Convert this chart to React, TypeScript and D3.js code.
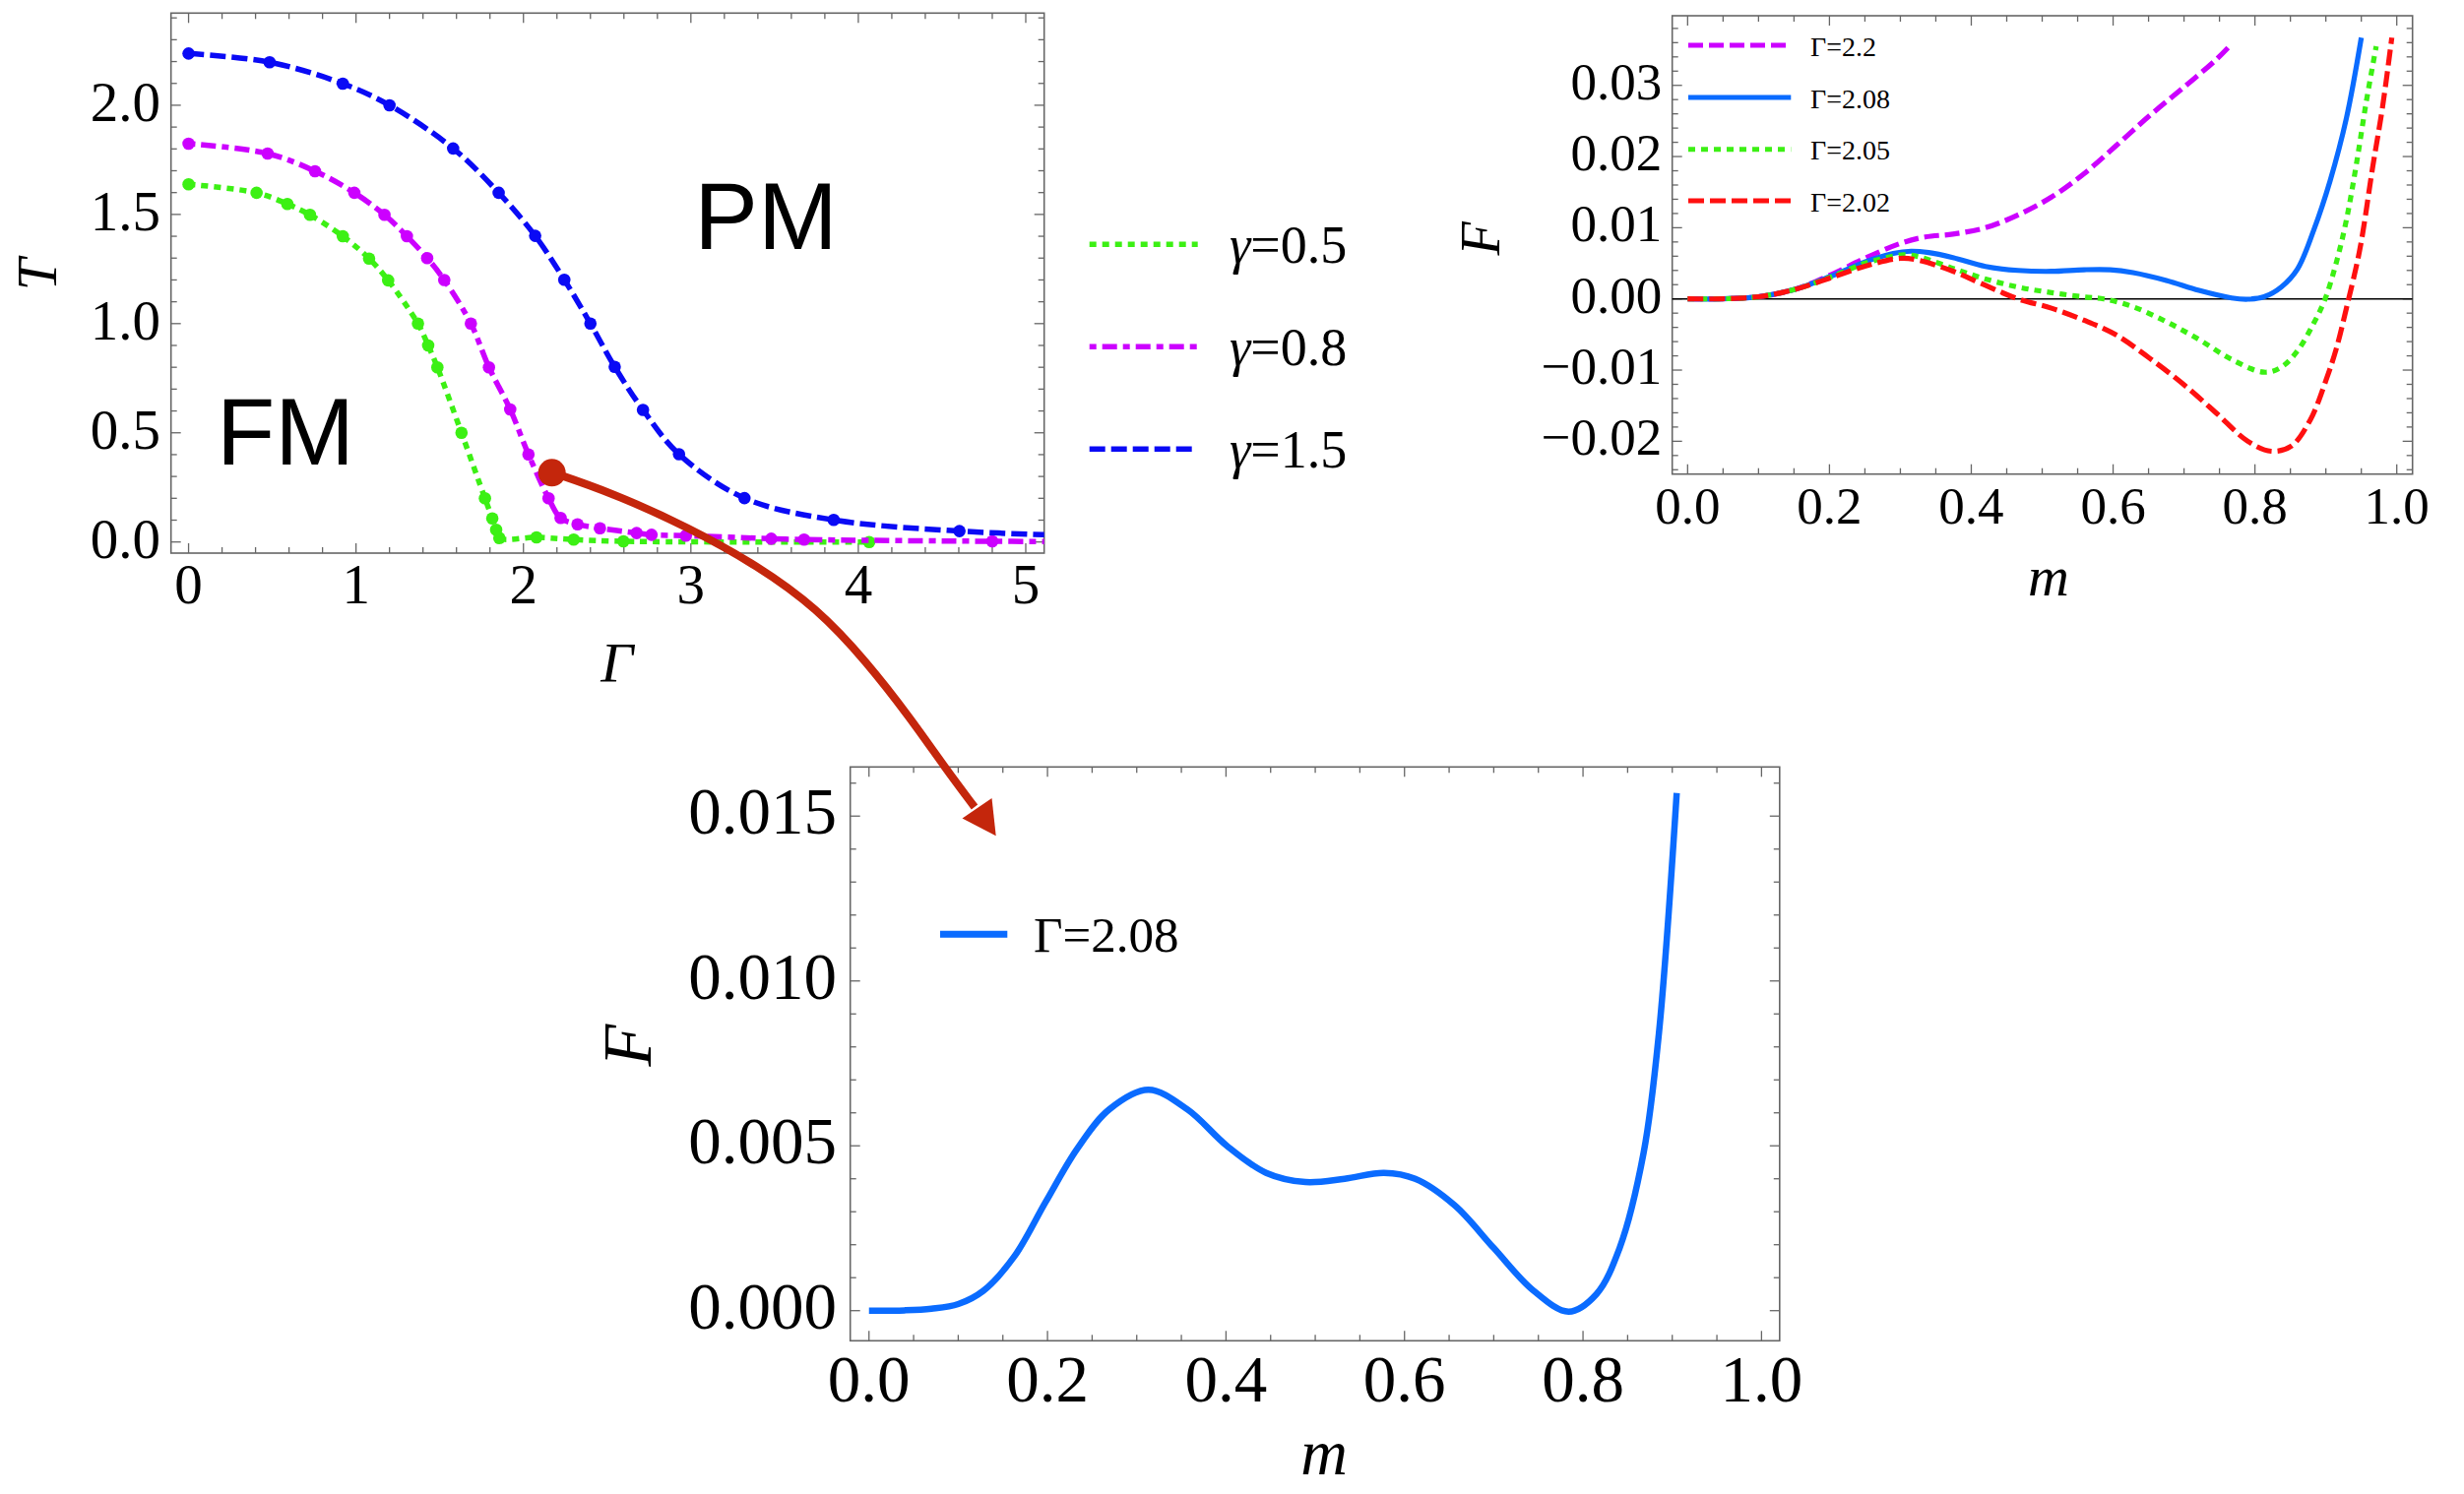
import React from 'react';
import * as d3 from 'd3';

// ---------- Panel 1 data: phase diagram T(Γ) ----------
const g05Points: [number, number][] = [
  [0, 1.638], [0.406, 1.599], [0.59, 1.548], [0.725, 1.498], [0.921, 1.4], [1.078, 1.298],
  [1.192, 1.198], [1.37, 1.0], [1.431, 0.9], [1.486, 0.8], [1.63, 0.5], [1.77, 0.2],
  [1.814, 0.108], [1.837, 0.056], [1.856, 0.018], [2.078, 0.021], [2.3, 0.011], [2.597, 0.003], [4.065, 0.0],
];
const g08Points: [number, number][] = [
  [0, 1.824], [0.472, 1.779], [0.755, 1.698], [0.99, 1.599], [1.17, 1.498], [1.304, 1.4],
  [1.425, 1.3], [1.527, 1.2], [1.686, 1.0], [1.794, 0.8], [1.921, 0.607], [2.03, 0.401],
  [2.15, 0.2], [2.222, 0.11], [2.323, 0.081], [2.457, 0.063], [2.676, 0.041], [2.765, 0.033],
  [2.97, 0.029], [3.48, 0.015], [3.676, 0.011], [4.8, 0.003],
];
const g08Tail: [number, number][] = [[5.2, 0.002]];
const g15Points: [number, number][] = [
  [0, 2.237], [0.484, 2.197], [0.921, 2.099], [1.2, 2.0], [1.58, 1.802], [1.852, 1.599],
  [2.07, 1.402], [2.244, 1.201], [2.4, 1.0], [2.545, 0.802], [2.714, 0.605], [2.929, 0.402],
  [3.32, 0.201], [3.853, 0.101], [4.604, 0.05],
];
const g15Tail: [number, number][] = [[5.2, 0.031]];
const gammaValues = ['0.5', '0.8', '1.5'];
const markedPoint: [number, number] = [2.17, 0.317];

const p1XTicks = [0, 1, 2, 3, 4, 5];
const p1YTicks = [0, 0.5, 1.0, 1.5, 2.0];
const p1XLabels = ['0', '1', '2', '3', '4', '5'];
const p1YLabels = ['0.0', '0.5', '1.0', '1.5', '2.0'];

// ---------- Panel 2 data: F(m) for several Γ ----------
const fG220: [number, number][] = [
  [0, 0], [0.05, 0.00002], [0.1, 0.0003], [0.15, 0.0013], [0.2, 0.0033], [0.25, 0.0057],
  [0.3, 0.0078], [0.335, 0.0087], [0.374, 0.0091], [0.42, 0.0100], [0.466, 0.0118],
  [0.513, 0.0143], [0.559, 0.0176], [0.605, 0.0216], [0.651, 0.0257], [0.698, 0.0296],
  [0.744, 0.0335], [0.765, 0.0356],
];
const fG208: [number, number][] = [
  [0, 0], [0.05, 0.00002], [0.1, 0.0003], [0.15, 0.0013], [0.2, 0.0031], [0.25, 0.0052],
  [0.29, 0.0064], [0.315, 0.0067], [0.34, 0.0065], [0.374, 0.0058], [0.42, 0.00456],
  [0.466, 0.0040], [0.513, 0.00387], [0.559, 0.0041], [0.596, 0.0041], [0.628, 0.0037],
  [0.675, 0.0026], [0.721, 0.0012], [0.767, 0.00014], [0.79, -0.00004], [0.813, 0.0003],
  [0.837, 0.00166], [0.86, 0.0042], [0.883, 0.0097], [0.906, 0.0166], [0.929, 0.0254], [0.95, 0.0367],
];
const fG205: [number, number][] = [
  [0, 0], [0.05, 0.00002], [0.1, 0.0003], [0.15, 0.0013], [0.2, 0.0030], [0.25, 0.0050],
  [0.29, 0.0060], [0.305, 0.0062], [0.327, 0.0059], [0.374, 0.0043], [0.42, 0.0028],
  [0.466, 0.00166], [0.513, 0.00088], [0.559, 0.00028], [0.587, 0], [0.628, -0.0011],
  [0.675, -0.0032], [0.721, -0.0057], [0.767, -0.0085], [0.813, -0.0103], [0.837, -0.0096],
  [0.86, -0.0073], [0.883, -0.0034], [0.899, 0], [0.915, 0.0052], [0.929, 0.0111],
  [0.943, 0.0189], [0.957, 0.0277], [0.971, 0.0355],
];
const fG202: [number, number][] = [
  [0, 0], [0.05, 0.00002], [0.1, 0.0003], [0.15, 0.0013], [0.2, 0.0029], [0.25, 0.0046],
  [0.3, 0.0057], [0.327, 0.0054], [0.374, 0.0039], [0.42, 0.0019], [0.466, 0], [0.513, -0.0013],
  [0.559, -0.0030], [0.605, -0.0051], [0.651, -0.0083], [0.698, -0.0119], [0.744, -0.0159],
  [0.79, -0.0200], [0.823, -0.0214], [0.851, -0.0207], [0.878, -0.0170], [0.901, -0.0112],
  [0.915, -0.0069], [0.929, -0.0013], [0.948, 0.0070], [0.966, 0.0185], [0.98, 0.027], [0.993, 0.0367],
];
const p2Names = ['Γ=2.2', 'Γ=2.08', 'Γ=2.05', 'Γ=2.02'];
const p2XTicks = [0, 0.2, 0.4, 0.6, 0.8, 1.0];
const p2YTicks = [-0.02, -0.01, 0, 0.01, 0.02, 0.03];
const p2XLabels = ['0.0', '0.2', '0.4', '0.6', '0.8', '1.0'];
const p2YLabels = ['−0.02', '−0.01', '0.00', '0.01', '0.02', '0.03'];

// ---------- Panel 3 data: F(m) at Γ=2.08 ----------
const fZoom208: [number, number][] = [
  [0, 0], [0.04, 0.00001], [0.07, 0.00006], [0.1, 0.0002], [0.128, 0.0006], [0.163, 0.00165],
  [0.198, 0.0033], [0.233, 0.0049], [0.269, 0.0061], [0.313, 0.0067], [0.357, 0.0061], [0.401, 0.0050],
  [0.445, 0.00418], [0.489, 0.0039], [0.533, 0.0040], [0.577, 0.00418], [0.612, 0.0040],
  [0.656, 0.0032], [0.70, 0.0019], [0.744, 0.00062], [0.784, -0.00003], [0.815, 0.0005],
  [0.841, 0.0019], [0.868, 0.0048], [0.885, 0.0084], [0.905, 0.0157],
];
const p3XTicks = [0, 0.2, 0.4, 0.6, 0.8, 1.0];
const p3YTicks = [0, 0.005, 0.010, 0.015];
const p3XLabels = ['0.0', '0.2', '0.4', '0.6', '0.8', '1.0'];
const p3YLabels = ['0.000', '0.005', '0.010', '0.015'];

// annotation arrow (pixel path, smoothed)
const arrowPath: [number, number][] = [
  [561, 480], [620, 500], [700, 536], [770, 575], [830, 618], [880, 672], [925, 730], [960, 780], [990, 820],
];

const SERIF = '"Liberation Serif", "Times New Roman", serif';
const SANS = '"Liberation Sans", Arial, sans-serif';

const C_GREEN = '#3cf014';
const C_MAG = '#cc00ff';
const C_BLUE = '#0a0af5';
const C_BLUE2 = '#0a6bff';
const C_RED = '#ff1010';
const C_ARROW = '#c4260c';
const FRAME = '#666';

function minorRange(a: number, b: number, step: number, majors: number[]) {
  const out: number[] = [];
  const n0 = Math.ceil(a / step - 1e-9);
  const n1 = Math.floor(b / step + 1e-9);
  for (let i = n0; i <= n1; i++) {
    const v = i * step;
    if (!majors.some((m) => Math.abs(m - v) < step * 1e-3)) out.push(v);
  }
  return out;
}

type FrameProps = {
  x: d3.ScaleLinear<number, number>;
  y: d3.ScaleLinear<number, number>;
  xMajor: number[];
  yMajor: number[];
  xMinorStep: number;
  yMinorStep: number;
  xLabels: string[];
  yLabels: string[];
  fontSize: number;
  yLabelRight: number;
  yBaseOff: number;
  xBaseline: number;
};

function Frame(p: FrameProps) {
  const [l, r] = p.x.range();
  const [b, t] = p.y.range();
  const xd = p.x.domain();
  const yd = p.y.domain();
  const xMin = minorRange(xd[0], xd[1], p.xMinorStep, p.xMajor);
  const yMin = minorRange(yd[0], yd[1], p.yMinorStep, p.yMajor);
  const ML = 10, ml = 6;
  const lines: any[] = [];
  let k = 0;
  const tk = (x1: number, y1: number, x2: number, y2: number) =>
    lines.push(<line key={k++} x1={x1} y1={y1} x2={x2} y2={y2} stroke={FRAME} strokeWidth={1.3} />);
  p.xMajor.forEach((v) => { const X = p.x(v); tk(X, b, X, b - ML); tk(X, t, X, t + ML); });
  xMin.forEach((v) => { const X = p.x(v); tk(X, b, X, b - ml); tk(X, t, X, t + ml); });
  p.yMajor.forEach((v) => { const Y = p.y(v); tk(l, Y, l + ML, Y); tk(r, Y, r - ML, Y); });
  yMin.forEach((v) => { const Y = p.y(v); tk(l, Y, l + ml, Y); tk(r, Y, r - ml, Y); });
  return (
    <g>
      <rect x={l} y={t} width={r - l} height={b - t} fill="none" stroke={FRAME} strokeWidth={1.6} />
      {lines}
      {p.xMajor.map((v, i) => (
        <text key={'xl' + i} x={p.x(v)} y={p.xBaseline} textAnchor="middle" fontFamily={SERIF} fontSize={p.fontSize} fill="#000">
          {p.xLabels[i]}
        </text>
      ))}
      {p.yMajor.map((v, i) => (
        <text key={'yl' + i} x={p.yLabelRight} y={p.y(v) + p.yBaseOff} textAnchor="end" fontFamily={SERIF} fontSize={p.fontSize} fill="#000">
          {p.yLabels[i]}
        </text>
      ))}
    </g>
  );
}

export default function App() {
  // scales
  const x1 = d3.scaleLinear().domain([-0.105, 5.11]).range([173.7, 1060.7]);
  const y1 = d3.scaleLinear().domain([-0.051, 2.422]).range([562, 13.3]);
  const x2 = d3.scaleLinear().domain([-0.0217, 1.0222]).range([1698.7, 2450.7]);
  const y2 = d3.scaleLinear().domain([-0.02461, 0.03978]).range([481.7, 16]);
  const x3 = d3.scaleLinear().domain([-0.021, 1.0203]).range([863.7, 1807.8]);
  const y3 = d3.scaleLinear().domain([-0.000913, 0.01649]).range([1362.3, 779.3]);

  const l1 = d3.line<[number, number]>().x((d) => x1(d[0])).y((d) => y1(d[1])).curve(d3.curveCatmullRom.alpha(0.5));
  const l2 = d3.line<[number, number]>().x((d) => x2(d[0])).y((d) => y2(d[1])).curve(d3.curveCatmullRom.alpha(0.5));
  const l3 = d3.line<[number, number]>().x((d) => x3(d[0])).y((d) => y3(d[1])).curve(d3.curveCatmullRom.alpha(0.5));
  const la = d3.line<[number, number]>().curve(d3.curveBasis);

  const p1Series = [
    { pts: g05Points, tail: [] as [number, number][], color: C_GREEN, dash: '7,6' },
    { pts: g08Points, tail: g08Tail, color: C_MAG, dash: '7,6,15,6' },
    { pts: g15Points, tail: g15Tail, color: C_BLUE, dash: '16,6' },
  ];
  const p2Series = [
    { data: fG220, color: C_MAG, dash: '15,6', w: 5.2 },
    { data: fG208, color: C_BLUE2, dash: '', w: 5.2 },
    { data: fG205, color: C_GREEN, dash: '7,6', w: 5.2 },
    { data: fG202, color: C_RED, dash: '16,6', w: 5.2 },
  ];
  const p2LegendY = [46, 99, 151.7, 204];
  const p1LegendY = [248.3, 352.3, 456.3];

  // arrowhead geometry
  const tip: [number, number] = [1011.7, 849.3];
  const cA: [number, number] = [977.5, 831.5];
  const cB: [number, number] = [1007.5, 811];

  return (
    <svg width={2503} height={1518} style={{ position: 'absolute', left: 0, top: 0, background: '#fff' }}>
      <defs>
        <clipPath id="c1"><rect x={173.7} y={13.3} width={1060.7 - 173.7} height={562 - 13.3} /></clipPath>
        <clipPath id="c2"><rect x={1698.7} y={16} width={2450.7 - 1698.7} height={481.7 - 16} /></clipPath>
        <clipPath id="c3"><rect x={863.7} y={779.3} width={1807.8 - 863.7} height={1362.3 - 779.3} /></clipPath>
      </defs>
      <rect x={0} y={0} width={2503} height={1518} fill="#fff" />

      {/* ---------- Panel 1 ---------- */}
      <Frame x={x1} y={y1} xMajor={p1XTicks} yMajor={p1YTicks} xMinorStep={0.2} yMinorStep={0.1}
        xLabels={p1XLabels} yLabels={p1YLabels} fontSize={57} yLabelRight={163} yBaseOff={16} xBaseline={613} />
      <g clipPath="url(#c1)">
        {p1Series.map((s, i) => (
          <g key={i}>
            <path d={l1(s.pts.concat(s.tail)) || ''} fill="none" stroke={s.color} strokeWidth={5.5} strokeDasharray={s.dash} />
            {s.pts.map((d, j) => (
              <circle key={j} cx={x1(d[0])} cy={y1(d[1])} r={6.3} fill={s.color} />
            ))}
          </g>
        ))}
      </g>
      <text x={290} y={471.7} textAnchor="middle" fontFamily={SANS} fontSize={97} fill="#000">FM</text>
      <text x={778} y={252.5} textAnchor="middle" fontFamily={SANS} fontSize={97} fill="#000">PM</text>
      <text transform="translate(57,279) rotate(-90)" textAnchor="middle" fontFamily={SERIF} fontStyle="italic" fontSize={58}>T</text>
      <text x={626.7} y={693} textAnchor="middle" fontFamily={SERIF} fontStyle="italic" fontSize={58}>Γ</text>

      {/* Panel 1 legend */}
      {p1Series.map((s, i) => (
        <g key={'lg1' + i}>
          <line x1={1106.7} x2={1216.7} y1={p1LegendY[i]} y2={p1LegendY[i]} stroke={s.color} strokeWidth={5.5} strokeDasharray={s.dash} />
          <text x={1249} y={p1LegendY[i] + 19} fontFamily={SERIF} fontSize={54} fill="#000">
            <tspan fontStyle="italic">γ</tspan>={gammaValues[i]}
          </text>
        </g>
      ))}

      {/* ---------- Panel 2 ---------- */}
      <Frame x={x2} y={y2} xMajor={p2XTicks} yMajor={p2YTicks} xMinorStep={0.05} yMinorStep={0.002}
        xLabels={p2XLabels} yLabels={p2YLabels} fontSize={53} yLabelRight={1688.3} yBaseOff={14} xBaseline={532} />
      <line x1={1698.7} x2={2450.7} y1={y2(0)} y2={y2(0)} stroke="#000" strokeWidth={1.6} />
      <g clipPath="url(#c2)">
        {p2Series.map((s, i) => (
          <path key={i} d={l2(s.data) || ''} fill="none" stroke={s.color} strokeWidth={s.w} strokeDasharray={s.dash || undefined} />
        ))}
      </g>
      {p2Series.map((s, i) => (
        <g key={'lg2' + i}>
          <line x1={1715} x2={1819.3} y1={p2LegendY[i]} y2={p2LegendY[i]} stroke={s.color} strokeWidth={5} strokeDasharray={s.dash || undefined} />
          <text x={1839} y={p2LegendY[i] + 10.5} fontFamily={SERIF} fontSize={28} fill="#000">{p2Names[i]}</text>
        </g>
      ))}
      <text transform="translate(1523,242.5) rotate(-90)" textAnchor="middle" fontFamily={SERIF} fontStyle="italic" fontSize={56}>F</text>
      <text x={2081} y={605} textAnchor="middle" fontFamily={SERIF} fontStyle="italic" fontSize={58}>m</text>

      {/* ---------- Panel 3 ---------- */}
      <Frame x={x3} y={y3} xMajor={p3XTicks} yMajor={p3YTicks} xMinorStep={0.05} yMinorStep={0.001}
        xLabels={p3XLabels} yLabels={p3YLabels} fontSize={67} yLabelRight={850} yBaseOff={18} xBaseline={1424} />
      <g clipPath="url(#c3)">
        <path d={l3(fZoom208) || ''} fill="none" stroke={C_BLUE2} strokeWidth={6.5} />
      </g>
      <line x1={955} x2={1023.3} y1={949.3} y2={949.3} stroke={C_BLUE2} strokeWidth={7} />
      <text x={1050} y={966.7} fontFamily={SERIF} fontSize={51} fill="#000">{p2Names[1]}</text>
      <text transform="translate(661,1062) rotate(-90)" textAnchor="middle" fontFamily={SERIF} fontStyle="italic" fontSize={70}>F</text>
      <text x={1345} y={1498} textAnchor="middle" fontFamily={SERIF} fontStyle="italic" fontSize={66}>m</text>

      {/* ---------- Annotation arrow ---------- */}
      <path d={la(arrowPath) || ''} fill="none" stroke={C_ARROW} strokeWidth={8} />
      <polygon points={[tip, cA, cB].map((p) => p.join(',')).join(' ')} fill={C_ARROW} />
      <circle cx={x1(markedPoint[0])} cy={y1(markedPoint[1])} r={14} fill={C_ARROW} />
    </svg>
  );
}
